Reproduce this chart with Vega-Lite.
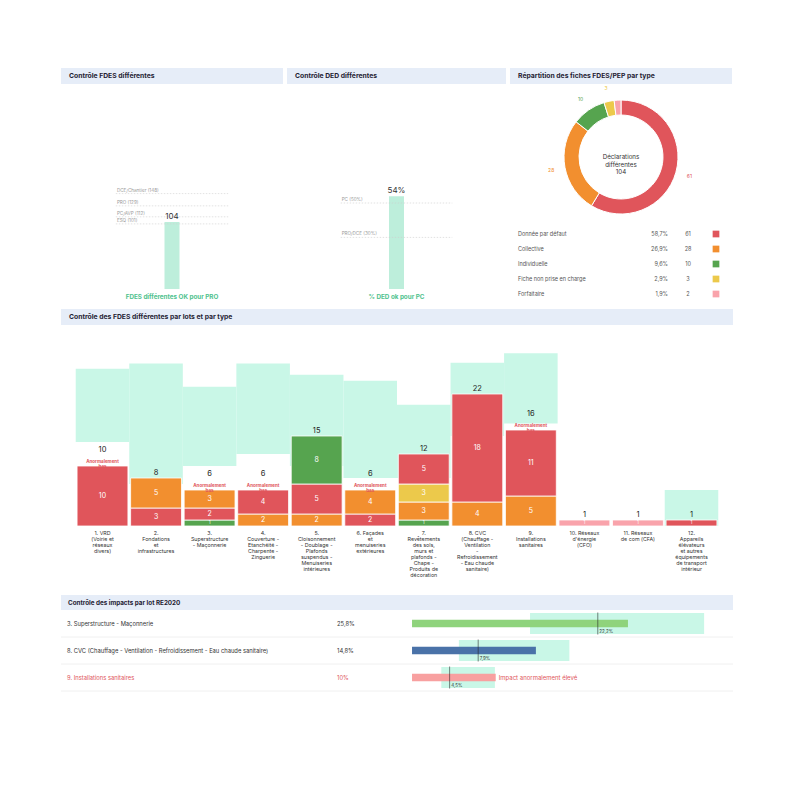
{
  "$schema": "https://vega.github.io/schema/vega-lite/v6.json",
  "background": "white",
  "padding": {"left": 60, "top": 68, "right": 68, "bottom": 100},
  "config": {"view": {"stroke": null}, "font": "Inter", "text": {"font": "Inter"}},
  "datasets": {
    "types": [
      {"type": "Donnée par défaut", "n": 61, "part": "58,7%", "lbl": "61"},
      {"type": "Collective", "n": 28, "part": "26,9%", "lbl": "28"},
      {"type": "Individuelle", "n": 10, "part": "9,6%", "lbl": "10"},
      {"type": "Fiche non prise en charge", "n": 3, "part": "2,9%", "lbl": "3"},
      {"type": "Forfaitaire", "n": 2, "part": "1,9%", "lbl": ""}
    ],
    "lots": [
      {"lot": "1", "nom": "1. VRD|(Voirie et|réseaux|divers)", "total": 10, "lo": 14, "hi": 26.2, "statut": "Anormalement bas"},
      {"lot": "2", "nom": "2.|Fondations|et|infrastructures", "total": 8, "lo": 7, "hi": 27.1, "statut": ""},
      {"lot": "3", "nom": "3.|Superstructure|- Maçonnerie", "total": 6, "lo": 10, "hi": 23.2, "statut": "Anormalement bas"},
      {"lot": "4", "nom": "4.|Couverture -|Etanchéité -|Charpente -|Zinguerie", "total": 6, "lo": 12, "hi": 27.1, "statut": "Anormalement bas"},
      {"lot": "5", "nom": "5.|Cloisonnement|- Doublage -|Plafonds|suspendus -|Menuiseries|intérieures", "total": 15, "lo": 10, "hi": 25.2, "statut": ""},
      {"lot": "6", "nom": "6. Façades|et|menuiseries|extérieures", "total": 6, "lo": 8, "hi": 24.2, "statut": "Anormalement bas"},
      {"lot": "7", "nom": "7.|Revêtements|des sols,|murs et|plafonds -|Chape -|Produits de|décoration", "total": 12, "lo": 8, "hi": 20.2, "statut": ""},
      {"lot": "8", "nom": "8. CVC|(Chauffage -|Ventilation|-|Refroidissement|- Eau chaude|sanitaire)", "total": 22, "lo": 15, "hi": 27.2, "statut": ""},
      {"lot": "9", "nom": "9.|Installations|sanitaires", "total": 16, "lo": 17.1, "hi": 28.8, "statut": "Anormalement bas"},
      {"lot": "10", "nom": "10. Réseaux|d'énergie|(CFO)", "total": 1, "lo": null, "hi": null, "statut": ""},
      {"lot": "11", "nom": "11. Réseaux|de com (CFA)", "total": 1, "lo": null, "hi": null, "statut": ""},
      {"lot": "12", "nom": "12.|Appareils|élévateurs|et autres|équipements|de transport|intérieur", "total": 1, "lo": 0, "hi": 6, "statut": ""}
    ],
    "segs": [
      {"lot": "1", "type": "Donnée par défaut", "n": 10, "ord": 1},
      {"lot": "2", "type": "Donnée par défaut", "n": 3, "ord": 1},
      {"lot": "2", "type": "Collective", "n": 5, "ord": 2},
      {"lot": "3", "type": "Individuelle", "n": 1, "ord": 1},
      {"lot": "3", "type": "Donnée par défaut", "n": 2, "ord": 2},
      {"lot": "3", "type": "Collective", "n": 3, "ord": 3},
      {"lot": "4", "type": "Collective", "n": 2, "ord": 1},
      {"lot": "4", "type": "Donnée par défaut", "n": 4, "ord": 2},
      {"lot": "5", "type": "Collective", "n": 2, "ord": 1},
      {"lot": "5", "type": "Donnée par défaut", "n": 5, "ord": 2},
      {"lot": "5", "type": "Individuelle", "n": 8, "ord": 3},
      {"lot": "6", "type": "Donnée par défaut", "n": 2, "ord": 1},
      {"lot": "6", "type": "Collective", "n": 4, "ord": 2},
      {"lot": "7", "type": "Individuelle", "n": 1, "ord": 1},
      {"lot": "7", "type": "Collective", "n": 3, "ord": 2},
      {"lot": "7", "type": "Fiche non prise en charge", "n": 3, "ord": 3},
      {"lot": "7", "type": "Donnée par défaut", "n": 5, "ord": 4},
      {"lot": "8", "type": "Collective", "n": 4, "ord": 1},
      {"lot": "8", "type": "Donnée par défaut", "n": 18, "ord": 2},
      {"lot": "9", "type": "Collective", "n": 5, "ord": 1},
      {"lot": "9", "type": "Donnée par défaut", "n": 11, "ord": 2},
      {"lot": "10", "type": "Forfaitaire", "n": 1, "ord": 1},
      {"lot": "11", "type": "Forfaitaire", "n": 1, "ord": 1},
      {"lot": "12", "type": "Donnée par défaut", "n": 1, "ord": 1}
    ],
    "impacts": [
      {"lot": "3. Superstructure - Maçonnerie", "part": "25,8%", "v": 25.8, "ref": 22.2, "refLib": "22,2%", "lo": 14.1, "hi": 34.9, "alerte": false, "msg": ""},
      {"lot": "8. CVC (Chauffage - Ventilation - Refroidissement - Eau chaude sanitaire)", "part": "14,8%", "v": 14.8, "ref": 7.9, "refLib": "7,9%", "lo": 5.6, "hi": 18.8, "alerte": false, "msg": ""},
      {"lot": "9. Installations sanitaires", "part": "10%", "v": 10, "ref": 4.5, "refLib": "4,5%", "lo": 3.5, "hi": 9.9, "alerte": true, "msg": "Impact anormalement élevé"}
    ]
  },
  "spacing": 0,
  "resolve": {"scale": {"color": "independent"}},
  "vconcat": [
    {
      "hconcat": [
        {
          "vconcat": [
            {
              "width": 222, "height": 16, "view": {"fill": "#e6edf8"},
              "data": {"values": [{"titre": "Contrôle FDES différentes"}]},
              "mark": {"type": "text", "align": "left", "dx": 8, "fontSize": 6.8, "fontWeight": "bold", "color": "#1f2233"},
              "encoding": {"text": {"field": "titre"}, "x": {"datum": 0, "type": "quantitative", "scale": {"domain": [0, 1], "nice": false}, "axis": null}}
            },
            {
              "width": 222, "height": 221,
              "layer": [
                {
                  "data": {"values": [{"cible": "FDES différentes OK pour PRO", "v": 104}]},
                  "mark": {"type": "bar", "orient": "vertical", "width": 15, "color": "#bdeedb"},
                  "encoding": {
                    "x": {"datum": 0, "type": "quantitative", "scale": {"domain": [-1, 1], "nice": false}, "axis": null},
                    "y": {"field": "v", "type": "quantitative", "scale": {"domain": [-24.8, 318], "nice": false}, "axis": null}
                  }
                },
                {
                  "data": {"values": [{"phase": "DCE/Chantier (148)", "v": 148}, {"phase": "PRO (129)", "v": 129}, {"phase": "PC/AVP (112)", "v": 112}, {"phase": "ESQ (101)", "v": 101}]},
                  "layer": [
                    {"mark": {"type": "rule", "color": "#cfcfcf", "strokeWidth": 0.6, "strokeDash": [1.5, 1.5]},
                     "encoding": {"x": {"datum": -0.53, "type": "quantitative"}, "x2": {"datum": 0.53}, "y": {"field": "v", "type": "quantitative"}}},
                    {"mark": {"type": "text", "align": "left", "baseline": "bottom", "dy": -1, "fontSize": 4.6, "color": "#9a9a9a"},
                     "encoding": {"x": {"datum": -0.52, "type": "quantitative"}, "y": {"field": "v", "type": "quantitative"}, "text": {"field": "phase"}}}
                  ]
                },
                {
                  "data": {"values": [{"cible": "FDES différentes OK pour PRO", "v": 104}]},
                  "layer": [
                    {"mark": {"type": "text", "baseline": "bottom", "dy": -1, "fontSize": 8, "color": "#333"},
                     "encoding": {"x": {"datum": 0, "type": "quantitative"}, "y": {"field": "v", "type": "quantitative"}, "text": {"field": "v"}}},
                    {"mark": {"type": "text", "fontSize": 6.3, "fontWeight": "bold", "color": "#4fc28e"},
                     "encoding": {"x": {"datum": 0, "type": "quantitative"}, "y": {"datum": -12.4, "type": "quantitative"}, "text": {"field": "cible"}}}
                  ]
                }
              ]
            }
          ],
          "spacing": 0
        },
        {
          "vconcat": [
            {
              "width": 219, "height": 16, "view": {"fill": "#e6edf8"},
              "data": {"values": [{"titre": "Contrôle DED différentes"}]},
              "mark": {"type": "text", "align": "left", "dx": 8, "fontSize": 6.8, "fontWeight": "bold", "color": "#1f2233"},
              "encoding": {"text": {"field": "titre"}, "x": {"datum": 0, "type": "quantitative", "scale": {"domain": [0, 1], "nice": false}, "axis": null}}
            },
            {
              "width": 219, "height": 221,
              "layer": [
                {
                  "data": {"values": [{"cible": "% DED ok pour PC", "v": 54, "lib": "54%"}]},
                  "mark": {"type": "bar", "orient": "vertical", "width": 15, "color": "#bdeedb"},
                  "encoding": {
                    "x": {"datum": 0, "type": "quantitative", "scale": {"domain": [-1, 1], "nice": false}, "axis": null},
                    "y": {"field": "v", "type": "quantitative", "scale": {"domain": [-9.3, 119.2], "nice": false}, "axis": null}
                  }
                },
                {
                  "data": {"values": [{"phase": "PC (50%)", "v": 50}, {"phase": "PRO/DCE (30%)", "v": 30}]},
                  "layer": [
                    {"mark": {"type": "rule", "color": "#cfcfcf", "strokeWidth": 0.6, "strokeDash": [1.5, 1.5]},
                     "encoding": {"x": {"datum": -0.534, "type": "quantitative"}, "x2": {"datum": 0.534}, "y": {"field": "v", "type": "quantitative"}}},
                    {"mark": {"type": "text", "align": "left", "baseline": "bottom", "dy": -1, "fontSize": 4.6, "color": "#9a9a9a"},
                     "encoding": {"x": {"datum": -0.525, "type": "quantitative"}, "y": {"field": "v", "type": "quantitative"}, "text": {"field": "phase"}}}
                  ]
                },
                {
                  "data": {"values": [{"cible": "% DED ok pour PC", "v": 54, "lib": "54%"}]},
                  "layer": [
                    {"mark": {"type": "text", "baseline": "bottom", "dy": -1, "fontSize": 8, "color": "#333"},
                     "encoding": {"x": {"datum": 0, "type": "quantitative"}, "y": {"field": "v", "type": "quantitative"}, "text": {"field": "lib"}}},
                    {"mark": {"type": "text", "fontSize": 6.3, "fontWeight": "bold", "color": "#4fc28e"},
                     "encoding": {"x": {"datum": 0, "type": "quantitative"}, "y": {"datum": -4.9, "type": "quantitative"}, "text": {"field": "cible"}}}
                  ]
                }
              ]
            }
          ],
          "spacing": 0
        },
        {
          "vconcat": [
            {
              "width": 222, "height": 16, "view": {"fill": "#e6edf8"},
              "data": {"values": [{"titre": "Répartition des fiches FDES/PEP par type"}]},
              "mark": {"type": "text", "align": "left", "dx": 8, "fontSize": 6.8, "fontWeight": "bold", "color": "#1f2233"},
              "encoding": {"text": {"field": "titre"}, "x": {"datum": 0, "type": "quantitative", "scale": {"domain": [0, 1], "nice": false}, "axis": null}}
            },
            {
              "width": 222, "height": 146,
              "layer": [
                {
                  "data": {"name": "types"},
                  "mark": {"type": "arc", "innerRadius": 42, "outerRadius": 57, "stroke": "white", "strokeWidth": 1},
                  "encoding": {
                    "theta": {"field": "n", "type": "quantitative", "stack": true},
                    "order": {"field": "n", "sort": "descending"},
                    "color": {"field": "type", "type": "nominal", "legend": null,
                      "scale": {"domain": ["Donnée par défaut", "Collective", "Individuelle", "Fiche non prise en charge", "Forfaitaire"], "range": ["#e0555b", "#f28f2f", "#56a44f", "#ecc94b", "#f9a3ab"]}}
                  }
                },
                {
                  "data": {"name": "types"},
                  "mark": {"type": "text", "radius": 71, "fontSize": 5},
                  "encoding": {
                    "theta": {"field": "n", "type": "quantitative", "stack": true},
                    "order": {"field": "n", "sort": "descending"},
                    "text": {"field": "lbl"},
                    "color": {"field": "type", "type": "nominal", "legend": null,
                      "scale": {"domain": ["Donnée par défaut", "Collective", "Individuelle", "Fiche non prise en charge", "Forfaitaire"], "range": ["#e0555b", "#f28f2f", "#56a44f", "#ecc94b", "#f9a3ab"]}}
                  }
                },
                {
                  "data": {"values": [{"c": "Déclarations|différentes|104"}]},
                  "mark": {"type": "text", "lineBreak": "|", "fontSize": 6.2, "lineHeight": 7.5, "color": "#333"},
                  "encoding": {"text": {"field": "c"}}
                }
              ]
            },
            {
              "width": 222, "height": 78,
              "data": {"name": "types"},
              "layer": [
                {"mark": {"type": "text", "align": "left", "fontSize": 5.5, "color": "#555"},
                 "encoding": {
                   "y": {"field": "type", "type": "nominal", "sort": null, "scale": {"type": "point", "padding": 0.6, "align": 0.1667}, "axis": null},
                   "x": {"datum": 8, "type": "quantitative", "scale": {"domain": [0, 222], "nice": false}, "axis": null}, "text": {"field": "type"}}},
                {"mark": {"type": "text", "align": "right", "fontSize": 5.5, "color": "#555"},
                 "encoding": {
                   "y": {"field": "type", "type": "nominal", "sort": null},
                   "x": {"datum": 158, "type": "quantitative"}, "text": {"field": "part"}}},
                {"mark": {"type": "text", "align": "center", "fontSize": 5.5, "color": "#555"},
                 "encoding": {
                   "y": {"field": "type", "type": "nominal", "sort": null},
                   "x": {"datum": 178, "type": "quantitative"}, "text": {"field": "n"}}},
                {"mark": {"type": "square", "size": 45, "opacity": 1},
                 "encoding": {
                   "y": {"field": "type", "type": "nominal", "sort": null},
                   "x": {"datum": 206, "type": "quantitative"},
                   "color": {"field": "type", "type": "nominal", "legend": null,
                     "scale": {"domain": ["Donnée par défaut", "Collective", "Individuelle", "Fiche non prise en charge", "Forfaitaire"], "range": ["#e0555b", "#f28f2f", "#56a44f", "#ecc94b", "#f9a3ab"]}}}}
              ]
            }
          ],
          "spacing": 0
        }
      ],
      "spacing": 4
    },
    {
      "width": 672, "height": 16, "view": {"fill": "#e6edf8"},
      "data": {"values": [{"titre": "Contrôle des FDES différentes par lots et par type"}]},
      "mark": {"type": "text", "align": "left", "dx": 8, "fontSize": 6.8, "fontWeight": "bold", "color": "#1f2233"},
      "encoding": {"text": {"field": "titre"}, "x": {"datum": 0, "type": "quantitative", "scale": {"domain": [0, 1], "nice": false}, "axis": null}}
    },
    {
      "width": 672, "height": 270,
      "layer": [
        {
          "data": {"name": "lots"},
          "transform": [{"filter": "datum.hi != null"}],
          "mark": {"type": "bar", "width": {"band": 1.0526}, "color": "#c9f7e7"},
          "encoding": {
            "x": {"field": "lot", "type": "nominal", "sort": null, "axis": null,
              "scale": {"domain": ["1", "2", "3", "4", "5", "6", "7", "8", "9", "10", "11", "12"], "paddingInner": 0.05, "paddingOuter": 0.3}},
            "y": {"field": "lo", "type": "quantitative", "scale": {"domain": [-11.5, 33.5], "nice": false, "zero": false}, "axis": null},
            "y2": {"field": "hi"}
          }
        },
        {
          "data": {"name": "segs"},
          "transform": [
            {"stack": "n", "groupby": ["lot"], "sort": [{"field": "ord", "order": "ascending"}], "as": ["y0", "y1"]},
            {"calculate": "(datum.y0 + datum.y1) / 2", "as": "mid"}
          ],
          "layer": [
            {
              "mark": {"type": "bar", "stroke": "white", "strokeWidth": 0.8},
              "encoding": {
                "x": {"field": "lot", "type": "nominal", "sort": null},
                "y": {"field": "y0", "type": "quantitative"},
                "y2": {"field": "y1"},
                "color": {"field": "type", "type": "nominal", "legend": null,
                  "scale": {"domain": ["Donnée par défaut", "Collective", "Individuelle", "Fiche non prise en charge", "Forfaitaire"], "range": ["#e0555b", "#f28f2f", "#56a44f", "#ecc94b", "#f9a3ab"]}}
              }
            },
            {
              "mark": {"type": "text", "color": "white"},
              "encoding": {
                "x": {"field": "lot", "type": "nominal", "sort": null},
                "y": {"field": "mid", "type": "quantitative"},
                "text": {"field": "n"},
                "size": {"condition": {"test": "datum.n < 2", "value": 4.5}, "value": 7}
              }
            }
          ]
        },
        {
          "data": {"name": "lots"},
          "layer": [
            {
              "transform": [{"filter": "datum.statut == ''"}],
              "mark": {"type": "text", "baseline": "bottom", "dy": -1.5, "fontSize": 7.5, "color": "#222"},
              "encoding": {"x": {"field": "lot", "type": "nominal", "sort": null}, "y": {"field": "total", "type": "quantitative"}, "text": {"field": "total"}}
            },
            {
              "transform": [{"filter": "datum.statut != ''"}],
              "mark": {"type": "text", "baseline": "bottom", "dy": -12, "fontSize": 7.5, "color": "#222"},
              "encoding": {"x": {"field": "lot", "type": "nominal", "sort": null}, "y": {"field": "total", "type": "quantitative"}, "text": {"field": "total"}}
            },
            {
              "transform": [{"filter": "datum.statut != ''"}],
              "mark": {"type": "text", "baseline": "bottom", "dy": -2, "fontSize": 4.5, "fontWeight": "bold", "lineBreak": " ", "lineHeight": 4.8, "color": "#e0555b"},
              "encoding": {"x": {"field": "lot", "type": "nominal", "sort": null}, "y": {"field": "total", "type": "quantitative"}, "text": {"field": "statut"}}
            },
            {
              "mark": {"type": "text", "baseline": "top", "fontSize": 5.3, "lineBreak": "|", "lineHeight": 6.1, "color": "#333"},
              "encoding": {"x": {"field": "lot", "type": "nominal", "sort": null}, "y": {"datum": -0.8, "type": "quantitative"}, "text": {"field": "nom"}}
            }
          ]
        }
      ]
    },
    {
      "width": 672, "height": 15, "view": {"fill": "#e6edf8"},
      "data": {"values": [{"titre": "Contrôle des impacts par lot RE2020"}]},
      "mark": {"type": "text", "align": "left", "dx": 7, "fontSize": 6.3, "fontWeight": "bold", "color": "#1f2233"},
      "encoding": {"text": {"field": "titre"}, "x": {"datum": 0, "type": "quantitative", "scale": {"domain": [0, 1], "nice": false}, "axis": null}}
    },
    {
      "width": 672, "height": 81,
      "data": {"name": "impacts"},
      "encoding": {"y": {"field": "lot", "type": "nominal", "sort": null, "scale": {"paddingInner": 0, "paddingOuter": 0}, "axis": null}},
      "layer": [
        {"mark": {"type": "rule", "color": "#ececec", "strokeWidth": 0.8},
         "encoding": {"y": {"field": "lot", "type": "nominal", "sort": null, "bandPosition": 1}}},
        {"mark": {"type": "bar", "height": {"band": 0.78}, "color": "#c9f7e7"},
         "encoding": {"x": {"field": "lo", "type": "quantitative", "scale": {"domain": [-41.94, 38.35], "nice": false, "zero": false}, "axis": null}, "x2": {"field": "hi"}}},
        {"mark": {"type": "bar", "height": {"band": 0.27}},
         "encoding": {"x": {"field": "v", "type": "quantitative"},
           "color": {"field": "lot", "type": "nominal", "legend": null,
             "scale": {"domain": ["3. Superstructure - Maçonnerie", "8. CVC (Chauffage - Ventilation - Refroidissement - Eau chaude sanitaire)", "9. Installations sanitaires"], "range": ["#8fd37c", "#4a72a8", "#f8a0a0"]}}}},
        {"mark": {"type": "tick", "orient": "vertical", "thickness": 0.8, "size": 22, "color": "#222"},
         "encoding": {"x": {"field": "ref", "type": "quantitative"}}},
        {"mark": {"type": "text", "align": "left", "dx": 1.5, "fontSize": 4.5, "color": "#333"},
         "encoding": {"x": {"field": "ref", "type": "quantitative"}, "y": {"field": "lot", "type": "nominal", "sort": null, "bandPosition": 0.8}, "text": {"field": "refLib"}}},
        {"mark": {"type": "text", "align": "left", "fontSize": 5.8},
         "encoding": {"x": {"datum": -41.22, "type": "quantitative"}, "text": {"field": "lot"},
           "color": {"condition": {"test": "datum.alerte", "value": "#e0555b"}, "value": "#333"}}},
        {"mark": {"type": "text", "align": "left", "fontSize": 5.8},
         "encoding": {"x": {"datum": -8.96, "type": "quantitative"}, "text": {"field": "part"},
           "color": {"condition": {"test": "datum.alerte", "value": "#e0555b"}, "value": "#333"}}},
        {"mark": {"type": "text", "align": "left", "dx": 3, "fontSize": 6, "color": "#e0555b"},
         "encoding": {"x": {"field": "v", "type": "quantitative"}, "text": {"field": "msg"}}}
      ]
    }
  ]
}
